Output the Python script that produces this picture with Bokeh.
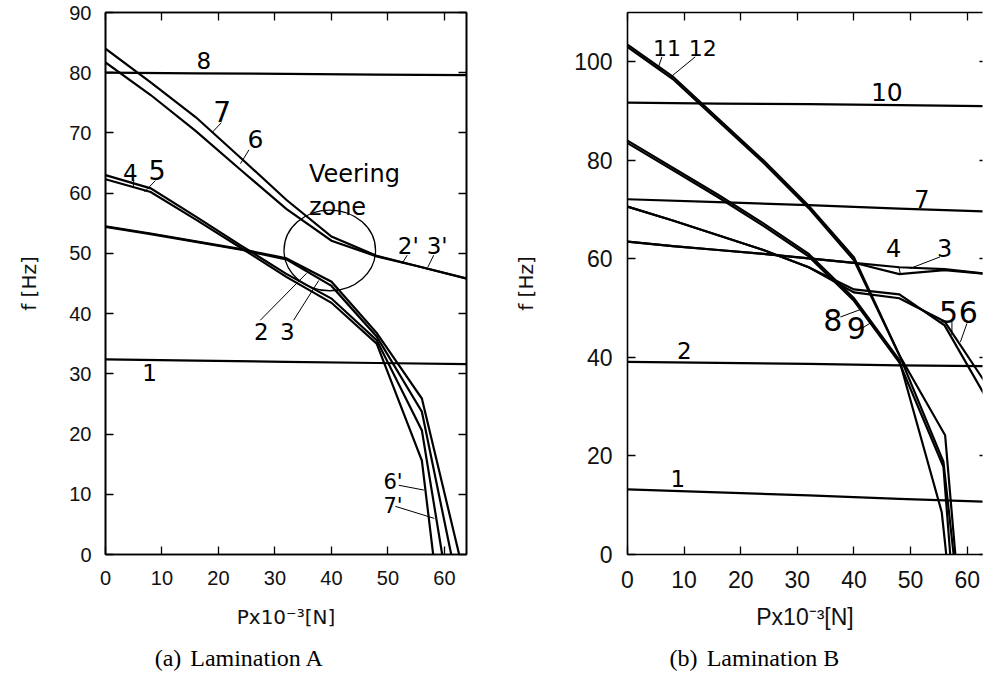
import numpy as np
from bokeh.plotting import figure
from bokeh.models import Label, LinearAxis, FixedTicker, Range1d
from bokeh.layouts import row, column
from bokeh.embed import file_html
from bokeh.resources import INLINE

# ---------------- data: panel (a) Lamination A ----------------
a_x_ticks = [0, 10, 20, 30, 40, 50, 60]
a_y_ticks = [0, 10, 20, 30, 40, 50, 60, 70, 80, 90]

a_x_flat = [0, 16, 32, 48, 64]
a_mode8 = [80.0, 79.9, 79.8, 79.7, 79.6]
a_mode1 = [32.4, 32.2, 32.0, 31.8, 31.6]

a_x_upper = [0, 8, 16, 24, 32, 40, 48, 56, 64]
a_mode7 = [84.0, 78.4, 72.6, 65.8, 58.9, 52.8, 49.6, 47.7, 45.8]
a_mode6 = [81.7, 76.3, 70.3, 63.8, 57.4, 52.1, 49.5, 47.7, 45.8]

a_x_mode2 = [0, 8, 16, 24, 32, 40, 48, 56, 62.6]
a_mode2 = [54.5, 53.3, 52.0, 50.7, 49.2, 45.3, 36.8, 25.9, 0.0]
a_x_mode3 = [0, 8, 16, 24, 32, 40, 48, 56, 61.2]
a_mode3 = [54.4, 53.2, 51.9, 50.6, 49.0, 44.6, 36.2, 23.7, 0.0]
a_x_mode4 = [0, 8, 16, 24, 32, 40, 48, 56, 59.6]
a_mode4 = [63.0, 60.8, 56.1, 51.3, 46.6, 42.5, 35.6, 20.6, 0.0]
a_x_mode5 = [0, 8, 16, 24, 32, 40, 48, 56, 58.0]
a_mode5 = [62.3, 60.2, 55.6, 50.9, 46.1, 41.8, 35.0, 15.6, 0.0]

# ---------------- data: panel (b) Lamination B ----------------
b_x_ticks = [0, 10, 20, 30, 40, 50, 60]
b_y_ticks = [0, 20, 40, 60, 80, 100]

b_x_flat = [0, 16, 32, 48, 64]
b_mode1 = [13.2, 12.6, 12.0, 11.3, 10.7]
b_mode2 = [39.1, 38.9, 38.7, 38.4, 38.2]
b_mode7 = [72.1, 71.5, 70.9, 70.2, 69.6]
b_mode10 = [91.7, 91.5, 91.4, 91.2, 91.0]

b_x_mode34 = [0, 8, 16, 24, 32, 40, 48, 56, 64]
b_mode3 = [63.5, 62.6, 61.8, 61.0, 60.1, 59.2, 58.3, 57.9, 56.9]
b_mode4 = [63.5, 62.6, 61.8, 61.0, 60.1, 59.2, 56.9, 57.7, 56.9]

b_x_mode56 = [0, 8, 16, 24, 32, 40, 48, 56, 64]
b_mode5 = [70.6, 67.8, 64.8, 61.8, 58.3, 53.8, 52.8, 46.5, 30.5]
b_mode6 = [70.6, 67.8, 64.8, 61.8, 58.3, 53.2, 52.0, 47.3, 33.5]

b_x_mode8 = [0, 8, 16, 24, 32, 40, 48, 55.5, 56.3]
b_mode8 = [84.0, 78.5, 73.0, 67.2, 61.0, 52.0, 39.5, 8.6, 0.0]
b_x_mode9 = [0, 8, 16, 24, 32, 40, 48, 55.8, 57.0]
b_mode9 = [83.5, 78.0, 72.5, 66.7, 60.5, 51.5, 39.0, 17.8, 0.0]
b_x_mode11 = [0, 8, 16, 24, 32, 40, 48, 55.8, 57.6]
b_mode11 = [103.5, 97.0, 88.5, 80.0, 70.8, 60.3, 40.5, 18.8, 0.0]
b_x_mode12 = [0, 8, 16, 24, 32, 40, 48, 56.1, 57.9]
b_mode12 = [103.0, 96.5, 88.0, 79.5, 70.3, 59.7, 40.5, 24.2, 0.0]

# ---------------- layout constants ----------------
H = 638          # main figures
CAP_H = 37       # caption strip below
TOP = 12
FRAME_H = 542
BOTTOM = H - TOP - FRAME_H

A_W, A_LEFT, A_RIGHT = 490, 105, 24
B_W, B_LEFT, B_RIGHT = 493, 137, 1
A_XMAX, A_YMAX = 63.9, 90
B_XMAX, B_YMAX = 62.7, 110


def make_fig(w, lft, rgt, xmax, ymax, xt, yt, tick_px, right_line=True, right_tick=8):
    p = figure(width=w, height=H, x_range=Range1d(0, xmax), y_range=Range1d(0, ymax),
               output_backend="svg", toolbar_location=None,
               min_border_left=lft, min_border_right=rgt,
               min_border_top=TOP, min_border_bottom=BOTTOM,
               background_fill_color="white", border_fill_color="white",
               outline_line_color="black" if right_line else None,
               outline_line_width=1.6)
    p.grid.visible = False
    xb = p.xaxis[0]
    yl = p.yaxis[0]
    for ax, ticks in ((xb, xt), (yl, yt)):
        ax.ticker = FixedTicker(ticks=ticks)
        ax.major_tick_in = 8
        ax.major_tick_out = 0
        ax.minor_tick_line_color = None
        ax.axis_line_width = 1.6
        ax.major_tick_line_width = 1.3
        ax.major_label_text_font = "Liberation Sans"
        ax.major_label_text_font_size = tick_px
        ax.major_label_text_color = "#111111"
        ax.axis_label_text_font_style = "normal"
        ax.axis_label_text_color = "#111111"
    xb.major_label_standoff = 16
    yl.major_label_standoff = 14
    top = LinearAxis(ticker=FixedTicker(ticks=xt), major_tick_in=8, major_tick_out=0,
                     minor_tick_line_color=None, major_label_text_font_size="1px",
                     major_label_overrides={t: "" for t in xt},
                     major_label_standoff=0, axis_line_width=1.6, major_tick_line_width=1.3)
    p.add_layout(top, "above")
    rt = LinearAxis(ticker=FixedTicker(ticks=yt), major_tick_in=right_tick, major_tick_out=0,
                    minor_tick_line_color=None, major_label_text_font_size="1px",
                    major_label_overrides={t: "" for t in yt},
                    major_label_standoff=0, axis_line_width=1.6, major_tick_line_width=1.3,
                    axis_line_color="black" if right_line else None)
    p.add_layout(rt, "right")
    return p, xb, yl


def lab(p, x, y, text, size, font="DejaVu Sans", align="center", baseline="middle", angle=0):
    p.add_layout(Label(x=x, y=y, text=text, text_font=font, text_font_size=size,
                       text_align=align, text_baseline=baseline, angle=angle,
                       text_color="black"))


def caption_fig(w, tag, tag_x, name, name_x):
    c = figure(width=w, height=CAP_H, x_range=Range1d(0, w), y_range=Range1d(0, CAP_H),
               output_backend="svg", toolbar_location=None, x_axis_type=None, y_axis_type=None,
               min_border=0, min_border_left=0, min_border_right=0, min_border_top=0,
               min_border_bottom=0, outline_line_color=None,
               background_fill_color="white", border_fill_color="white")
    c.grid.visible = False
    lab(c, tag_x, 18, tag, "24px", font="Liberation Serif")
    lab(c, name_x, 18, name, "24px", font="Liberation Serif")
    return c


LW = 2.2

# ================= panel (a) =================
pa, pa_x, pa_y = make_fig(A_W, A_LEFT, A_RIGHT, A_XMAX, A_YMAX, a_x_ticks, a_y_ticks, "20px")
pa_y.axis_label = "f [Hz]"
pa_y.axis_label_text_font = "DejaVu Sans"
pa_y.axis_label_text_font_size = "20px"
pa_y.axis_label_standoff = 25
pa_x.axis_label = "Px10\u207b\u00b3[N]"
pa_x.axis_label_text_font = "DejaVu Sans"
pa_x.axis_label_text_font_size = "20px"
pa_x.axis_label_standoff = 17

for xs, ys in [(a_x_flat, a_mode8), (a_x_flat, a_mode1), (a_x_upper, a_mode7), (a_x_upper, a_mode6),
               (a_x_mode2, a_mode2), (a_x_mode3, a_mode3), (a_x_mode4, a_mode4), (a_x_mode5, a_mode5)]:
    pa.line(xs, ys, line_color="black", line_width=LW, line_join="miter")

pa.ellipse(x=[39.7], y=[50.5], width=[16.2], height=[13.4], fill_color=None,
           line_color="black", line_width=1.3)

a_lead_x0 = [18.9, 23.9, 5.0, 8.85, 53.4, 58.1, 27.4, 33.3, 51.9, 51.3]
a_lead_y0 = [70.1, 64.9, 62.1, 62.1, 49.7, 49.7, 38.9, 38.9, 11.5, 8.0]
a_lead_x1 = [20.5, 25.4, 4.9, 6.9, 52.5, 57.05, 35.6, 37.75, 56.35, 58.2]
a_lead_y1 = [71.7, 67.2, 60.85, 60.2, 48.3, 47.7, 46.7, 45.5, 10.7, 6.0]
pa.segment(a_lead_x0, a_lead_y0, a_lead_x1, a_lead_y1, line_color="black", line_width=1)

lab(pa, 17.4, 82.0, "8", "23px")
lab(pa, 20.65, 73.5, "7", "28px")
lab(pa, 26.55, 69.05, "6", "25px")
lab(pa, 4.4, 63.5, "4", "23px")
lab(pa, 9.15, 63.8, "5", "27px")
lab(pa, 36.0, 63.1, "Veering", "24px", align="left", baseline="alphabetic")
lab(pa, 36.0, 57.7, "zone", "24px", align="left", baseline="alphabetic")
lab(pa, 53.6, 51.2, "2'", "23px")
lab(pa, 58.7, 51.2, "3'", "23px")
lab(pa, 27.6, 37.1, "2", "23px")
lab(pa, 32.2, 37.1, "3", "23px")
lab(pa, 7.8, 30.3, "1", "23px")
lab(pa, 50.9, 12.05, "6'", "21px")
lab(pa, 50.9, 8.05, "7'", "21px")

# ================= panel (b) =================
pb, pb_x, pb_y = make_fig(B_W, B_LEFT, B_RIGHT, B_XMAX, B_YMAX, b_x_ticks, b_y_ticks, "23px",
                          right_line=False, right_tick=3)
pb_y.major_label_standoff = 15
pb_y.axis_label = "f [Hz]"
pb_y.axis_label_text_font = "DejaVu Sans"
pb_y.axis_label_text_font_size = "20px"
pb_y.axis_label_standoff = 33
pb_x.axis_label = "Px10\u207b\u00b3[N]"
pb_x.axis_label_text_font = "Liberation Sans"
pb_x.axis_label_text_font_size = "23px"
pb_x.axis_label_standoff = 13

for xs, ys in [(b_x_flat, b_mode1), (b_x_flat, b_mode2), (b_x_flat, b_mode7), (b_x_flat, b_mode10),
               (b_x_mode34, b_mode3), (b_x_mode34, b_mode4), (b_x_mode56, b_mode5), (b_x_mode56, b_mode6),
               (b_x_mode8, b_mode8), (b_x_mode9, b_mode9), (b_x_mode11, b_mode11), (b_x_mode12, b_mode12)]:
    pb.line(xs, ys, line_color="black", line_width=LW, line_join="miter")

b_lead_x0 = [6.08, 11.96, 47.9, 55.2, 57.3, 59.95, 37.6, 41.4]
b_lead_y0 = [101.0, 101.0, 58.4, 60.4, 47.55, 46.9, 48.2, 45.9]
b_lead_x1 = [5.48, 7.84, 48.2, 49.9, 57.3, 58.8, 41.1, 43.2]
b_lead_y1 = [98.96, 97.1, 57.0, 58.05, 44.5, 43.15, 49.7, 47.2]
pb.segment(b_lead_x0, b_lead_y0, b_lead_x1, b_lead_y1, line_color="black", line_width=1)

lab(pb, 6.96, 102.8, "11", "22px")
lab(pb, 13.3, 102.8, "12", "22px")
lab(pb, 45.8, 93.95, "10", "25px")
lab(pb, 52.0, 72.1, "7", "24px")
lab(pb, 47.0, 62.2, "4", "24px")
lab(pb, 56.0, 62.2, "3", "24px")
lab(pb, 56.7, 49.3, "5", "30px")
lab(pb, 60.2, 49.3, "6", "30px")
lab(pb, 36.25, 47.55, "8", "30px")
lab(pb, 40.4, 46.0, "9", "30px")
lab(pb, 10.05, 41.5, "2", "23px")
lab(pb, 8.87, 15.35, "1", "23px")

# ================= captions =================
ca = caption_fig(A_W, "(a)", 167.5, "Lamination A", 256.7)
cb = caption_fig(B_W, "(b)", 193.0, "Lamination B", 282.5)

layout = column(row(pa, pb), row(ca, cb))
open("out.html", "w").write(file_html(layout, INLINE))
